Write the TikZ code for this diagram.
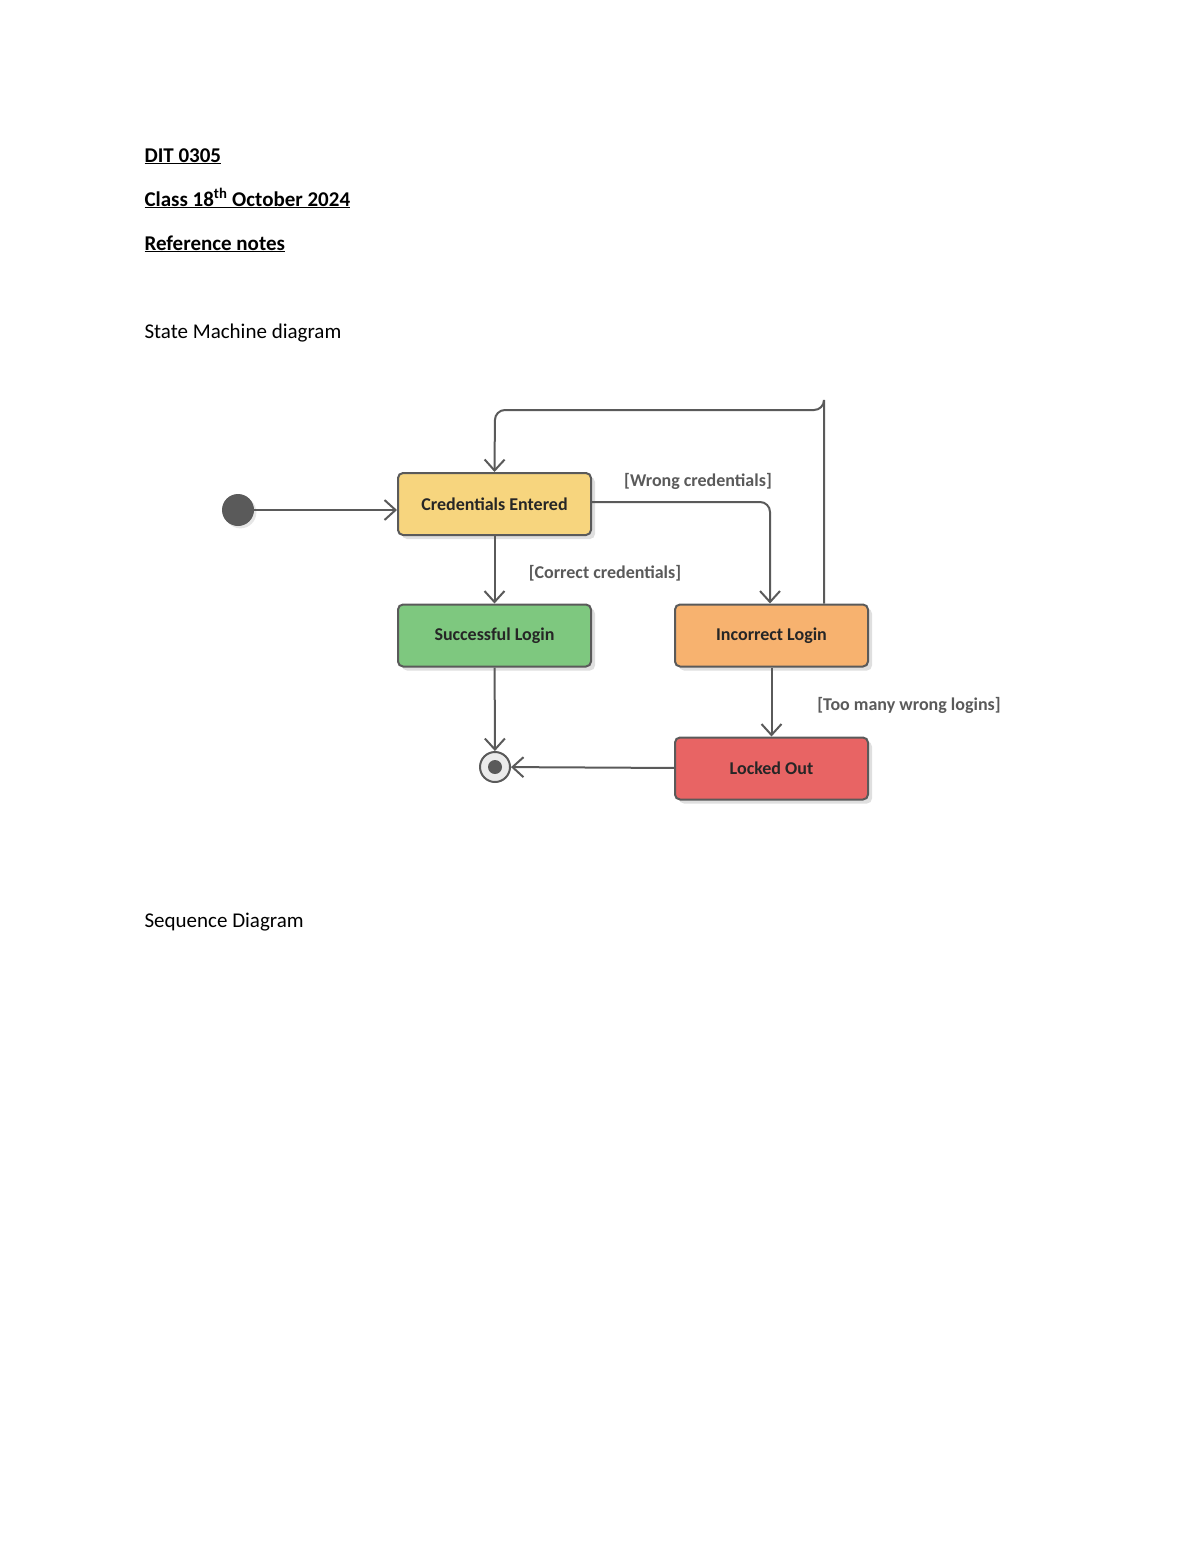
\documentclass[tikz,border=0pt]{standalone}
\usepackage{fontspec}
\setmainfont{Carlito}
\usetikzlibrary{arrows.meta,shadows}
\definecolor{ln}{HTML}{5A5A5A}
\definecolor{cy}{HTML}{F7D57E}
\definecolor{cg}{HTML}{7EC87F}
\definecolor{co}{HTML}{F7B26F}
\definecolor{cr}{HTML}{E86464}
\begin{document}
\begin{tikzpicture}[x=1pt,y=-1pt,
 st/.style={draw=ln,line width=2pt,rounded corners=5pt,minimum width=193pt,minimum height=62pt,font=\fontsize{18}{20}\selectfont\bfseries,text=black!85,drop shadow={opacity=0.25,shadow xshift=4pt,shadow yshift=-4pt}},
 ed/.style={draw=ln,line width=2pt,rounded corners=10pt,-{Straight Barb[length=11pt,width=20pt,line width=2pt]}},
 lb/.style={font=\fontsize{18}{20}\selectfont\bfseries,text=ln},
 hd/.style={anchor=base west,font=\fontsize{21}{24}\selectfont}]
\useasboundingbox (0,0) rectangle (1200,1553);
\node[hd] (h1) at (141,162) {\textbf{\underline{DIT 0305}}};
\node[hd] (h2) at (141,206) {\textbf{\underline{Class 18\textsuperscript{th} October 2024}}};
\node[hd] (h3) at (141,250) {\textbf{\underline{Reference notes}}};
\node[hd] (h4) at (141,338) {State Machine diagram};
\node[hd] (h5) at (141,927) {Sequence Diagram};
\node[st,fill=cy] (ce) at (494.5,504) {Credentials Entered};
\node[st,fill=cg] (sl) at (494.5,635.5) {Successful Login};
\node[st,fill=co] (il) at (771.5,635.5) {Incorrect Login};
\node[st,fill=cr] (lo) at (771.5,768.5) {Locked Out};
\node[circle,fill=ln,minimum size=32pt,inner sep=0pt,drop shadow={opacity=0.2}] (ini) at (238,510) {};
\node[circle,draw=ln,line width=2pt,fill=black!8,minimum size=30pt,inner sep=0pt] (fin) at (495,767) {};
\fill[ln] (fin.center) circle (7pt);
\coordinate (t1) at (824,410);
\coordinate (t2) at (495,410);
\draw[ed] (ini) -- (ce.west|-ini);
\draw[ed] (ce) -- (sl);
\draw[ed] ([yshift=2pt]ce.east) -| (il.north-|770,0);
\draw[ed] (il.north-|824,0) |- (t1) -- (t2) -- (ce.north);
\draw[ed] (il) -- (lo);
\draw[ed] (sl) -- (fin);
\draw[ed] (lo) -- (fin);
\node[lb] (l1) at (698,481) {[Wrong credentials]};
\node[lb] (l2) at (605,573) {[Correct credentials]};
\node[lb] (l3) at (909,705) {[Too many wrong logins]};
\end{tikzpicture}
\end{document}
